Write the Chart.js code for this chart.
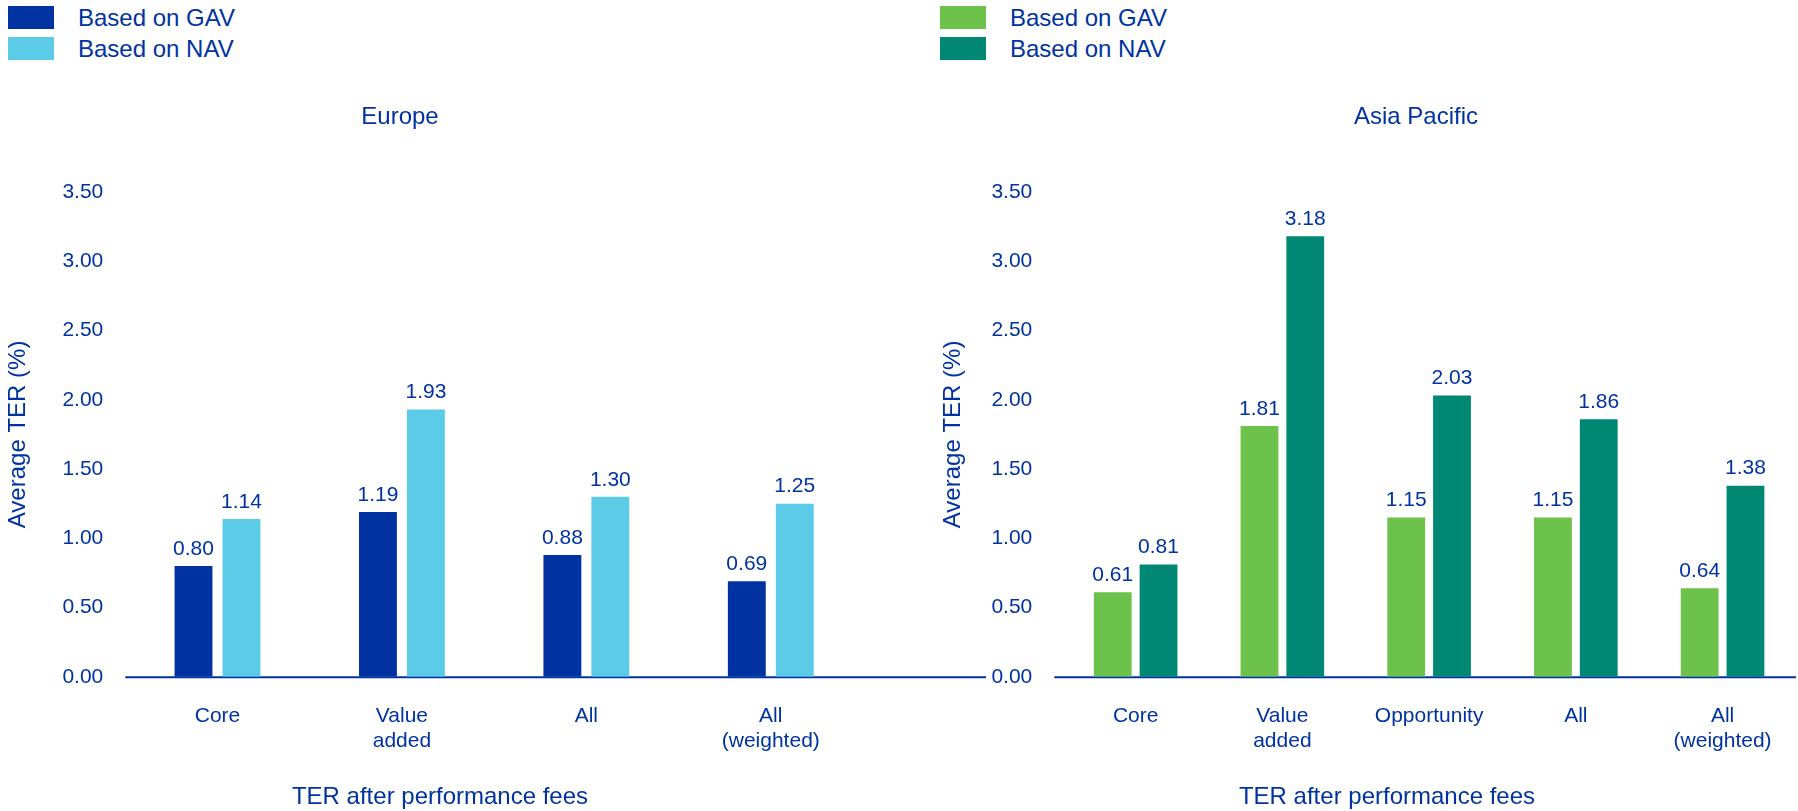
<!DOCTYPE html>
<html>
<head>
<meta charset="utf-8">
<title>Average TER after performance fees</title>
<script src="https://cdn.jsdelivr.net/npm/chart.js@4.4.1/dist/chart.umd.min.js"></script>
<style>
  body { margin: 0; background: #fff; font-family: "Liberation Sans", Arial, sans-serif; }
  #wrap { position: relative; width: 1798px; height: 811px; overflow: hidden; }
  canvas { position: absolute; top: 0; }
  #europeChart { left: 0; }
  #asiaChart { left: 932px; }
  .legend { position: absolute; top: 6px; }
  .legend-item { display: flex; align-items: center; height: 23px; margin-bottom: 8px; color: #0033a1; font-size: 24px; }
  .legend-swatch { width: 46px; height: 23px; margin-right: 24px; }
</style>
</head>
<body>
<div id="wrap">
  <div class="legend" id="europeLegend" style="left:8px"></div>
  <div class="legend" id="asiaLegend" style="left:940px"></div>
  <canvas id="europeChart" width="1000" height="811"></canvas>
  <canvas id="asiaChart" width="866" height="811"></canvas>
</div>
<script>
// Series and categories
const seriesNames = ['Based on GAV', 'Based on NAV'];

const europeCategories = ['Core', ['Value', 'added'], 'All', ['All', '(weighted)']];
const europeGav = [0.80, 1.19, 0.88, 0.69];
const europeNav = [1.14, 1.93, 1.30, 1.25];

const asiaCategories = ['Core', ['Value', 'added'], 'Opportunity', 'All', ['All', '(weighted)']];
const asiaGav = [0.61, 1.81, 1.15, 1.15, 0.64];
const asiaNav = [0.81, 3.18, 2.03, 1.86, 1.38];

const yMin = 0;
const yMax = 3.5;
const yStep = 0.5;

const TEXT = '#0033a1';
const FONT = '"Liberation Sans", Arial, sans-serif';

// Legend boxes above each panel
function buildLegend(id, colors) {
    const el = document.getElementById(id);
    seriesNames.forEach((name, i) => {
        const item = document.createElement('div');
        item.className = 'legend-item';
        item.innerHTML = `<span class="legend-swatch" style="background:${colors[i]}"></span><span>${name}</span>`;
        el.appendChild(item);
    });
}

// Zero line, allowed to run past the plot area
const baselinePlugin = {
    id: 'baseline',
    beforeDatasetsDraw(chart, args, opts) {
        const {ctx, chartArea, scales} = chart;
        const y = scales.y.getPixelForValue(0);
        ctx.save();
        ctx.strokeStyle = opts.color;
        ctx.lineWidth = opts.width;
        ctx.beginPath();
        ctx.moveTo(chartArea.left - opts.extendLeft, y + 0.5);
        ctx.lineTo(chartArea.right + opts.extendRight, y + 0.5);
        ctx.stroke();
        ctx.restore();
    }
};

// Value printed over every bar
const valueLabelsPlugin = {
    id: 'valueLabels',
    afterDatasetsDraw(chart) {
        const {ctx} = chart;
        ctx.save();
        ctx.fillStyle = TEXT;
        ctx.font = '21px ' + FONT;
        ctx.textAlign = 'center';
        ctx.textBaseline = 'middle';
        chart.data.datasets.forEach((ds, di) => {
            chart.getDatasetMeta(di).data.forEach((bar, i) => {
                ctx.fillText(ds.data[i].toFixed(2), bar.x, bar.y - 17);
            });
        });
        ctx.restore();
    }
};

// Panel heading and x-axis caption
const panelTextPlugin = {
    id: 'panelText',
    afterDraw(chart, args, opts) {
        const {ctx} = chart;
        ctx.save();
        ctx.fillStyle = TEXT;
        ctx.font = '24px ' + FONT;
        ctx.textAlign = 'center';
        ctx.textBaseline = 'middle';
        ctx.fillText(opts.title, opts.titleX, opts.titleY);
        ctx.fillText(opts.caption, opts.captionX, opts.captionY);
        ctx.restore();
    }
};

function makeChart(canvasId, cfg) {
    return new Chart(document.getElementById(canvasId), {
        type: 'bar',
        data: {
            labels: cfg.labels,
            datasets: [
                { label: seriesNames[0], data: cfg.gav, backgroundColor: cfg.colors[0] },
                { label: seriesNames[1], data: cfg.nav, backgroundColor: cfg.colors[1] }
            ]
        },
        options: {
            responsive: false,
            animation: false,
            devicePixelRatio: 1,
            categoryPercentage: cfg.categoryPercentage,
            barPercentage: cfg.barPercentage,
            layout: { padding: { top: 192, bottom: 31, left: 0, right: cfg.padRight } },
            plugins: {
                legend: { display: false },
                tooltip: { enabled: false },
                baseline: { color: TEXT, width: 2, extendLeft: cfg.extendLeft, extendRight: cfg.extendRight },
                panelText: {
                    title: cfg.title, titleX: cfg.titleX, titleY: 117,
                    caption: 'TER after performance fees', captionX: cfg.captionX, captionY: 797
                }
            },
            scales: {
                x: {
                    grid: { display: false, drawTicks: false },
                    border: { display: false },
                    ticks: { color: TEXT, font: { family: FONT, size: 21, lineHeight: 1.2 }, padding: 26.4, maxRotation: 0 }
                },
                y: {
                    min: yMin,
                    max: yMax,
                    grid: { display: false, drawTicks: false },
                    border: { display: false },
                    ticks: {
                        stepSize: yStep,
                        color: TEXT,
                        font: { family: FONT, size: 21 },
                        padding: cfg.tickPad,
                        callback: v => Number(v).toFixed(2)
                    },
                    title: {
                        display: true,
                        text: 'Average TER (%)',
                        color: TEXT,
                        font: { family: FONT, size: 24, lineHeight: 1.2 },
                        padding: { top: cfg.titlePadTop, bottom: cfg.titlePadBottom }
                    }
                }
            }
        },
        plugins: [baselinePlugin, valueLabelsPlugin, panelTextPlugin]
    });
}

buildLegend('europeLegend', ['#0033a1', '#5bcbe8']);
buildLegend('asiaLegend', ['#6cc24a', '#008875']);

makeChart('europeChart', {
    labels: europeCategories, gav: europeGav, nav: europeNav,
    colors: ['#0033a1', '#5bcbe8'],
    categoryPercentage: 0.52, barPercentage: 0.79,
    padRight: 137, extendLeft: 0, extendRight: 123,
    tickPad: 22, titlePadTop: 3.6, titlePadBottom: 8,
    title: 'Europe', titleX: 400, captionX: 440
});

makeChart('asiaChart', {
    labels: asiaCategories, gav: asiaGav, nav: asiaNav,
    colors: ['#6cc24a', '#008875'],
    categoryPercentage: 0.624, barPercentage: 0.826,
    padRight: 0, extendLeft: 8, extendRight: 0,
    tickPad: 30, titlePadTop: 6.6, titlePadBottom: -6,
    title: 'Asia Pacific', titleX: 484, captionX: 455
});
</script>
</body>
</html>
